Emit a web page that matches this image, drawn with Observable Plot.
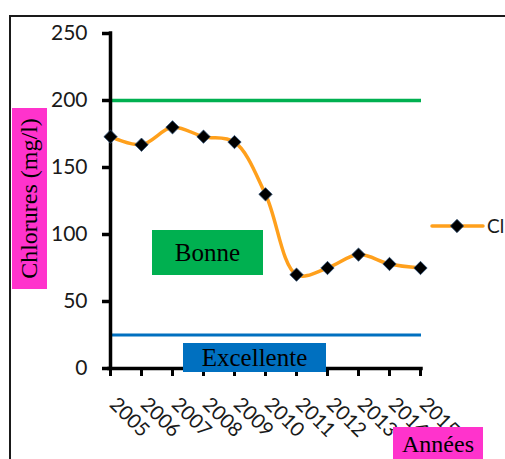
<!DOCTYPE html>
<html>
<head>
<meta charset="utf-8">
<script src="https://cdn.jsdelivr.net/npm/d3@7"></script>
<script src="https://cdn.jsdelivr.net/npm/@observablehq/plot@0.6"></script>
<style>
  body { margin: 0; background: #fff; }
  #wrap { position: relative; width: 505px; height: 459px; overflow: hidden; background: #fff; }
  #frame { position: absolute; left: 9px; top: 15px; width: 700px; height: 700px;
           border-left: 2px solid #1a1a1a; border-top: 2px solid #1a1a1a; }
  #chart { position: absolute; left: 0; top: 0; }
  .box { position: absolute; display: flex; align-items: center; justify-content: center;
         font-family: "Liberation Serif", serif; font-size: 24px; color: #000; white-space: nowrap; }
  #ylab { left: 12px; top: 108px; width: 35px; height: 181px; background: #ff33cc; }
  #ylab span { transform: rotate(-90deg); display: block; }
  #xlab { left: 393px; top: 427px; width: 90px; height: 34px; background: #ff33cc; }
  #bonne { left: 152px; top: 230px; width: 111px; height: 45px; background: #00b050; font-size: 25px; }
  #excel { left: 183px; top: 343px; width: 143px; height: 29px; background: #0070c0; font-size: 25px; }
  #legend { position: absolute; left: 430px; top: 214px; }
</style>
</head>
<body>
<div id="wrap">
  <div id="frame"></div>
  <div id="chart"></div>
  <div class="box" id="bonne">Bonne</div>
  <div class="box" id="excel">Excellente</div>
  <div class="box" id="ylab"><span>Chlorures (mg/l)</span></div>
  <div class="box" id="xlab">Années</div>
  <svg id="legend" width="75" height="26"></svg>
</div>
<script>
const years = ["2005","2006","2007","2008","2009","2010","2011","2012","2013","2014","2015"];
const chlorures = [173, 167, 180, 173, 169, 130, 70, 75, 85, 78, 75];
const seuilBonne = 200;
const seuilExcellente = 25;
const yTicks = [0, 50, 100, 150, 200, 250];
const seriesName = "Cl";
const lineColor = "#ffa01c";

const data = years.map((a, i) => ({annee: a, cl: chlorures[i]}));

const chart = Plot.plot({
  width: 505,
  height: 459,
  marginLeft: 109,
  marginRight: 84,
  marginTop: 33,
  marginBottom: 91,
  x: {type: "point", domain: years, padding: 0},
  y: {domain: [0, 250]},
  style: {fontFamily: "Lato", fontSize: "21px", color: "#1a1a1a", background: "transparent"},
  marks: [
    Plot.ruleY([seuilBonne], {stroke: "#00b050", strokeWidth: 3.5}),
    Plot.ruleY([seuilExcellente], {stroke: "#0070c0", strokeWidth: 3}),
    Plot.axisY({ticks: yTicks, tickSize: 7, tickPadding: 15, strokeWidth: 3.5, label: null, fontSize: 21, stroke: "#000"}),
    Plot.axisX({tickSize: 8, strokeWidth: 3, label: null, tickFormat: () => "", stroke: "#000"}),
    Plot.ruleY([0], {stroke: "#000", strokeWidth: 3.5, strokeLinecap: "square"}),
    Plot.ruleX([years[0]], {stroke: "#000", strokeWidth: 3.5, strokeLinecap: "square"}),
    Plot.text(years, {x: d => d, frameAnchor: "bottom", rotate: 45, textAnchor: "start",
                      dx: -2, dy: 37, fontSize: 20, fill: "#1a1a1a"}),
    Plot.line(data, {x: "annee", y: "cl", stroke: lineColor, strokeWidth: 3.5, curve: "catmull-rom"}),
    Plot.dot(data, {x: "annee", y: "cl", symbol: "diamond2", r: 6, fill: "#000", stroke: "#2d4f75", strokeWidth: 0.8})
  ]
});
document.getElementById("chart").appendChild(chart);

// legend
const lg = d3.select("#legend");
lg.append("line").attr("x1", 2).attr("x2", 53).attr("y1", 12).attr("y2", 12)
  .attr("stroke", lineColor).attr("stroke-width", 3.5).attr("stroke-linecap", "round");
lg.append("path").attr("d", d3.symbol(d3.symbolDiamond2, Math.PI * 6 * 6)())
  .attr("transform", "translate(27,12)").attr("fill", "#000").attr("stroke", "#2d4f75").attr("stroke-width", 0.8);
lg.append("text").attr("x", 57).attr("y", 12).attr("dy", "0.35em")
  .attr("font-family", "Lato").attr("font-size", 19).attr("fill", "#1a1a1a").text(seriesName);
</script>
</body>
</html>
